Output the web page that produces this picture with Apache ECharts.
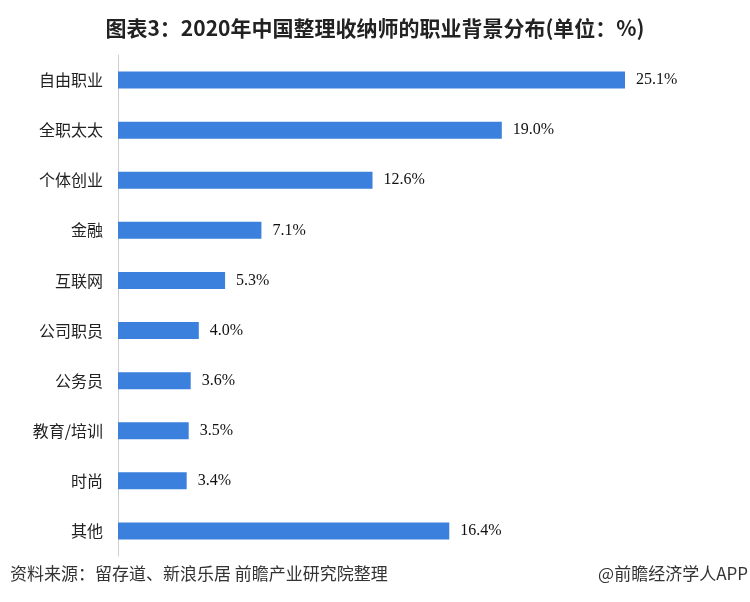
<!DOCTYPE html>
<html>
<head>
<meta charset="utf-8">
<script src="https://cdn.jsdelivr.net/npm/echarts@6/dist/echarts.min.js"></script>
<style>
html,body{margin:0;padding:0;background:#fff;}
#main{width:750px;height:602px;}
</style>
</head>
<body>
<div id="main"></div>
<script>
const categories = ["自由职业","全职太太","个体创业","金融","互联网","公司职员","公务员","教育/培训","时尚","其他"];
const values = [25.1, 19.0, 12.6, 7.1, 5.3, 4.0, 3.6, 3.5, 3.4, 16.4];
const titleText = "图表3：2020年中国整理收纳师的职业背景分布(单位：%)";
const sourceText = "资料来源：留存道、新浪乐居 前瞻产业研究院整理";
const brandText = "@前瞻经济学人APP";

const chart = echarts.init(document.getElementById('main'), null, {renderer:'canvas'});
chart.setOption({
  backgroundColor: '#ffffff',
  animation: false,
  title: {
    text: titleText,
    left: 'center',
    top: 13,
    textStyle: {fontFamily: '"Noto Sans CJK SC", sans-serif', fontSize: 21, fontWeight: 'bold', color: '#222'}
  },
  graphic: [
    {type:'text', left: 10, top: 565, style:{text: sourceText, font: '17px "Noto Sans CJK SC", sans-serif', fill:'#333'}},
    {type:'text', right: 2, top: 565, style:{text: brandText, font: '17px "Noto Sans CJK SC", sans-serif', fill:'#333'}}
  ],
  grid: {left: 118, width: 606, top: 55, height: 501},
  xAxis: {
    type: 'value', min: 0, max: 30, show: false
  },
  yAxis: {
    type: 'category', data: categories, inverse: true,
    axisLine: {show: true, lineStyle: {color: '#cfcfcf', width: 1}},
    axisTick: {show: false},
    axisLabel: {margin: 15, fontSize: 16, color: '#222', fontFamily: '"Noto Sans CJK SC", sans-serif'}
  },
  series: [{
    type: 'bar',
    data: values,
    barWidth: 17,
    itemStyle: {color: '#3b80dd'},
    label: {
      show: true, position: 'right', distance: 11,
      formatter: p => p.value.toFixed(1) + '%',
      fontFamily: '"Liberation Serif", serif', fontSize: 16, color: '#111'
    }
  }]
});
</script>
</body>
</html>
